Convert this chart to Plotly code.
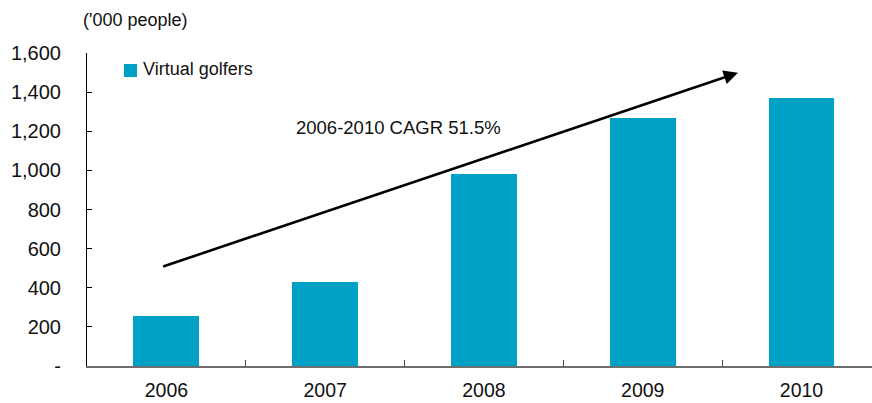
import plotly.graph_objects as go

# Virtual golfer numbers by year ('000 people)
years = ["2006", "2007", "2008", "2009", "2010"]
golfers = [256, 430, 982, 1268, 1371]

y_tick_vals = [0, 200, 400, 600, 800, 1000, 1200, 1400, 1600]
y_tick_text = ["-", "200", "400", "600", "800", "1,000", "1,200", "1,400", "1,600"]

series_name = "Virtual golfers"
cagr_label = "2006-2010 CAGR 51.5%"
unit_label = "('000 people)"

BAR_COLOR = "#00A1C7"
FONT = "Liberation Sans, Arial, sans-serif"

# Plot area in pixels
W, H = 872, 403
ML, MR, MT, MB = 87, 0, 53, 37
plot_w = W - ML - MR
plot_h = H - MT - MB


def px_to_paper(px, py):
    return (px - ML) / plot_w, (H - MB - py) / plot_h


fig = go.Figure()
fig.add_trace(go.Bar(
    x=years,
    y=golfers,
    name=series_name,
    marker=dict(color=BAR_COLOR, line=dict(width=0)),
    width=0.415,
    showlegend=False,
))

# Growth arrow from 2006 to beyond 2009
fig.add_annotation(
    x=3.6, y=1499, xref="x", yref="y",
    ax=-0.03, ay=506, axref="x", ayref="y",
    text="", showarrow=True,
    arrowhead=2, arrowsize=1.1, arrowwidth=2.6, arrowcolor="black",
)

fig.add_annotation(
    x=1.46, y=1218, xref="x", yref="y",
    text=cagr_label, showarrow=False,
    font=dict(family=FONT, size=18.5, color="#111"),
)

# Unit label above the value axis
ux, uy = px_to_paper(135.5, 20)
fig.add_annotation(
    x=ux, y=uy, xref="paper", yref="paper",
    xanchor="center", yanchor="middle",
    text=unit_label, showarrow=False,
    font=dict(family=FONT, size=18, color="#111"),
)

# Series key: coloured square plus name
sx0, sy0 = px_to_paper(124, 77)
sx1, sy1 = px_to_paper(137, 64)
fig.add_shape(
    type="rect", xref="paper", yref="paper",
    x0=sx0, x1=sx1, y0=sy0, y1=sy1,
    fillcolor=BAR_COLOR, line=dict(width=0),
)

lx, ly = px_to_paper(141, 69)
fig.add_annotation(
    x=lx, y=ly, xref="paper", yref="paper",
    xanchor="left", yanchor="middle",
    text=series_name, showarrow=False,
    font=dict(family=FONT, size=18, color="#111"),
)

fig.update_layout(
    width=W, height=H,
    margin=dict(l=ML, r=MR, t=MT, b=MB),
    plot_bgcolor="white", paper_bgcolor="white",
    font=dict(family=FONT, size=18, color="#111"),
    bargap=0,
    xaxis=dict(
        type="category",
        range=[-0.5, 4.444],
        automargin=False,
        showline=True, linecolor="#6e6e6e", linewidth=2,
        ticks="inside", tickson="boundaries", ticklen=6,
        tickcolor="#444", tickwidth=1,
        tickfont=dict(family=FONT, size=19.5, color="#111"),
        ticklabelstandoff=6,
        showgrid=False, zeroline=False,
    ),
    yaxis=dict(
        range=[0, 1600],
        automargin=False,
        tickvals=y_tick_vals, ticktext=y_tick_text,
        showline=True, linecolor="black", linewidth=1,
        ticks="inside", ticklen=5, tickcolor="black", tickwidth=1,
        tickfont=dict(family=FONT, size=20, color="#111"),
        ticklabelstandoff=21,
        showgrid=False, zeroline=False,
    ),
)

fig.write_html("out.html")
